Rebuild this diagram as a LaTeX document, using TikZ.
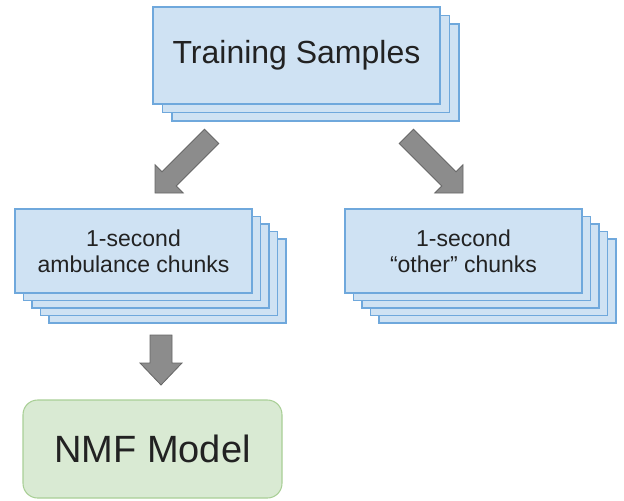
\documentclass[tikz,border=0pt]{standalone}
\usepackage{fontspec}
\setmainfont{Liberation Sans}
\definecolor{boxfill}{HTML}{CFE2F3}
\definecolor{boxline}{HTML}{6FA8DC}
\definecolor{greenfill}{HTML}{D9EAD3}
\definecolor{greenline}{HTML}{A9CF96}
\definecolor{arrowfill}{HTML}{8C8C8C}
\definecolor{arrowline}{HTML}{666666}
\definecolor{txt}{HTML}{222222}
\begin{document}
\begin{tikzpicture}[x=0.75pt,y=-0.75pt,
  bluebox/.style={draw=boxline, fill=boxfill, line width=0.8pt, inner sep=0pt, text=txt, align=center},
  topbox/.style={bluebox, minimum width=215.25pt, minimum height=72.75pt, font=\fontsize{24}{28}\selectfont},
  chunkbox/.style={bluebox, minimum width=177.75pt, minimum height=63pt, font=\fontsize{17.25}{19.5}\selectfont},
  greenbox/.style={draw=greenline, fill=greenfill, line width=0.8pt, rounded corners=11pt, inner sep=0pt, text=txt,
    minimum width=194.25pt, minimum height=73.5pt, font=\fontsize{28.5}{32}\selectfont},
  blockarrow/.style={draw=arrowline, fill=arrowfill, line width=0.6pt, line join=miter}]
\useasboundingbox (0,0) rectangle (624,500);
% Training samples stack
\foreach \k in {2,1} \node[topbox] (ts\k) at (296.5+\k*9.5, 55.5+\k*8.5) {};
\node[topbox] (ts) at (296.5,55.5) {Training Samples};
% ambulance chunks stack
\foreach \k in {4,3,2,1} \node[chunkbox] (amb\k) at (133.5+\k*8.5, 251+\k*7.5) {};
\node[chunkbox] (amb) at (133.5,251) {1-second\\ambulance chunks};
% other chunks stack
\foreach \k in {4,3,2,1} \node[chunkbox] (oth\k) at (463.5+\k*8.5, 251+\k*7.5) {};
\node[chunkbox] (oth) at (463.5,251) {1-second\\``other'' chunks};
% NMF model
\node[greenbox] (nmf) at (152.5,449) {\raisebox{-5pt}{NMF Model}\hspace{9pt}};
% block arrows
\draw[blockarrow] (204.5,129.3) -- (162.0,171.8) -- (155.0,164.8) -- (155,193) -- (183.2,193.0) -- (176.2,186.0) -- (218.7,143.5) -- cycle;
\draw[blockarrow] (413.5,129.3) -- (456,171.8) -- (463,164.8) -- (463,193) -- (434.8,193) -- (441.8,186) -- (399.3,143.5) -- cycle;
\draw[blockarrow] (150,335) -- (150,363) -- (140,363) -- (161,385) -- (182,363) -- (172,363) -- (172,335) -- cycle;
\end{tikzpicture}
\end{document}
